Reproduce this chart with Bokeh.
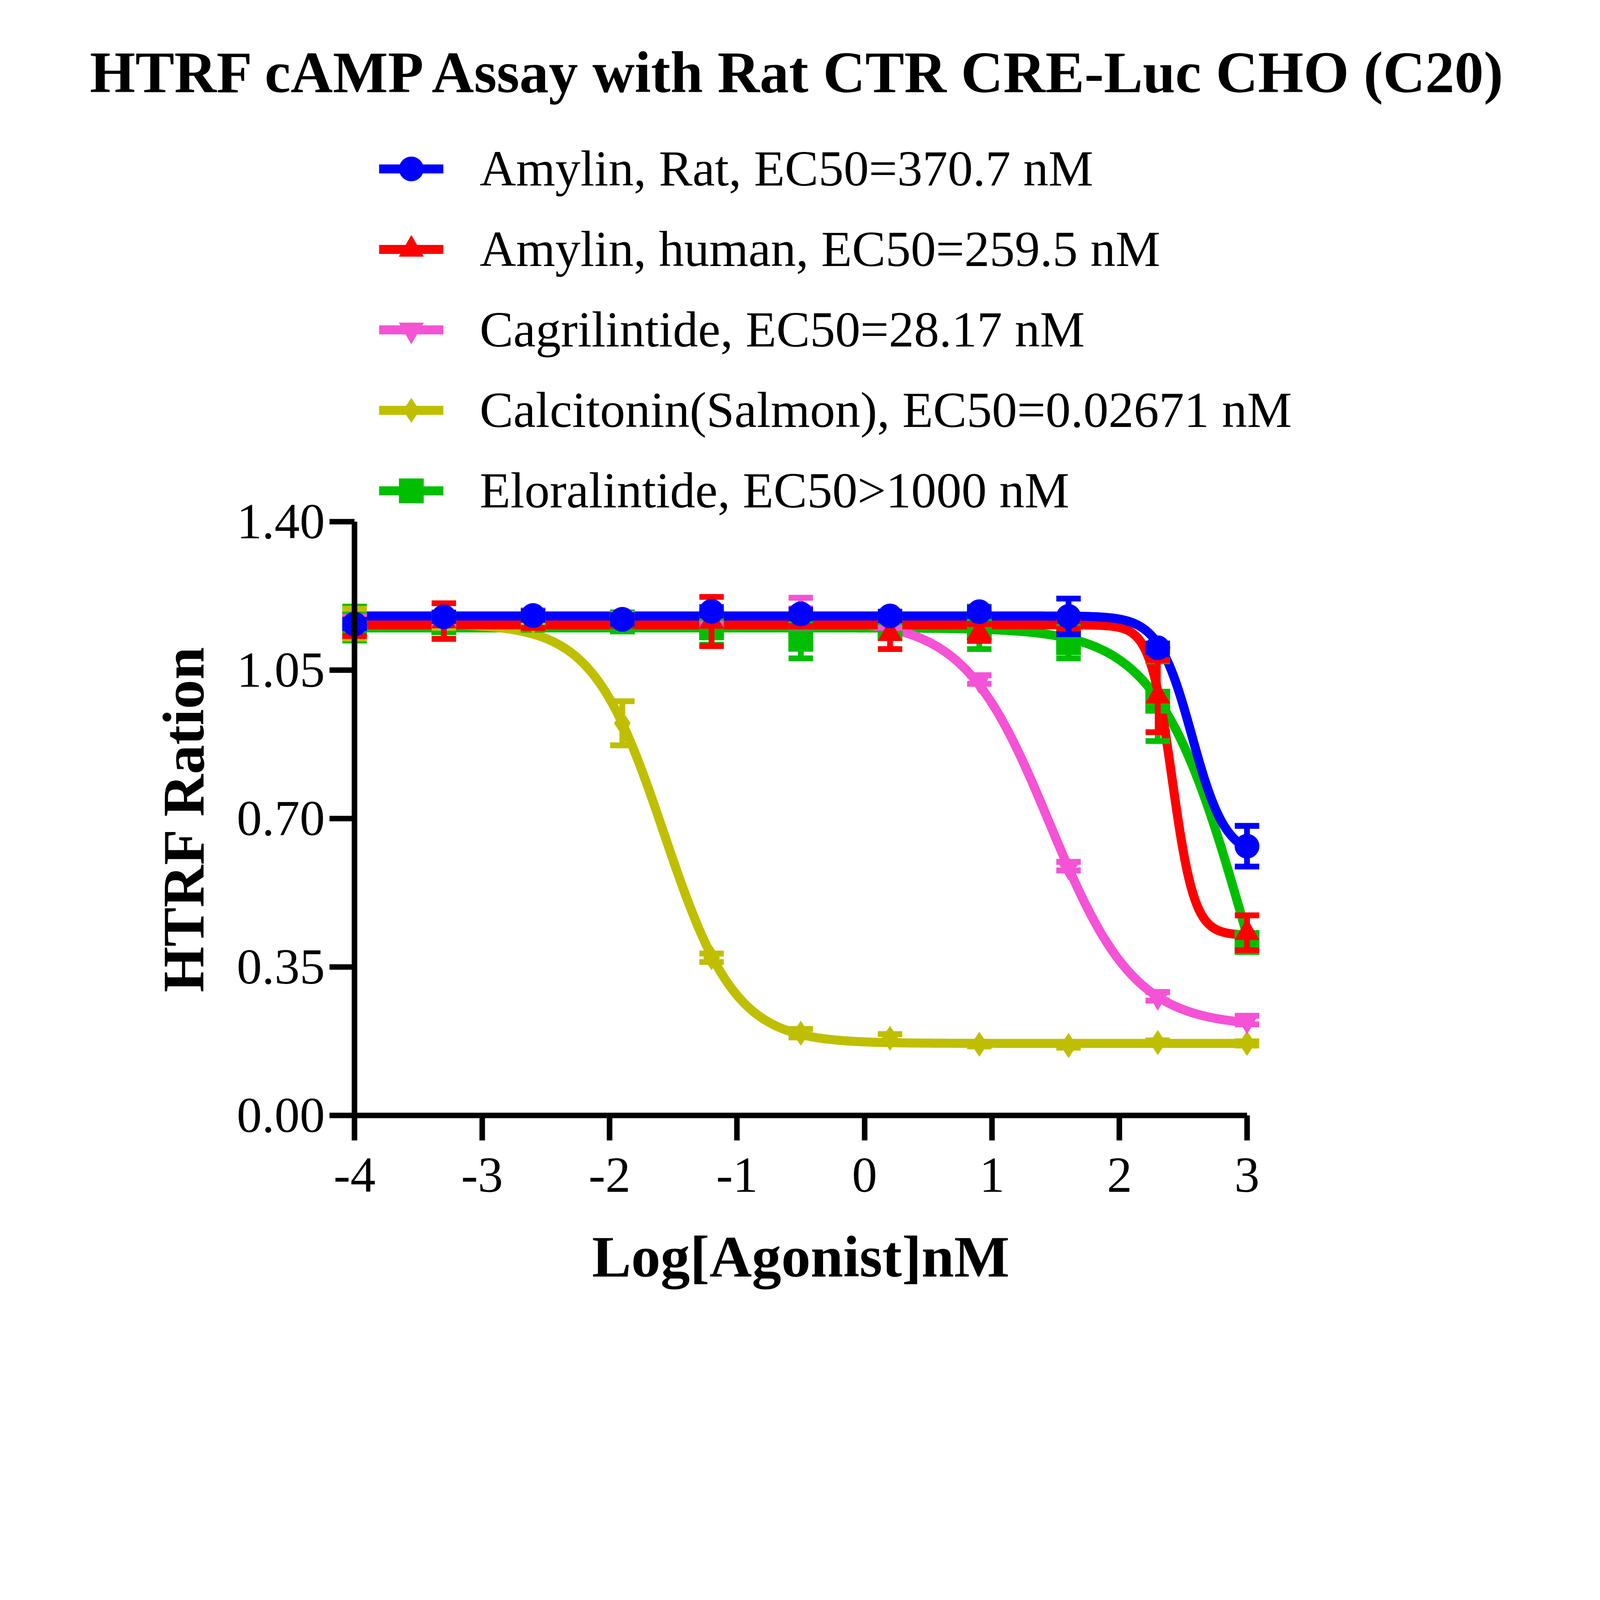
import numpy as np
from bokeh.plotting import figure
from bokeh.models import Range1d, FixedTicker, Legend, LegendItem, Label
from bokeh.embed import file_html
from bokeh.resources import INLINE

# ---------------- data ----------------
log_dose = [-4.0, -3.3, -2.6, -1.9, -1.2, -0.5, 0.2, 0.9, 1.6, 2.3, 3.0]

series_labels = [
    "Amylin, Rat, EC50=370.7 nM",
    "Amylin, human, EC50=259.5 nM",
    "Cagrilintide, EC50=28.17 nM",
    "Calcitonin(Salmon), EC50=0.02671 nM",
    "Eloralintide, EC50>1000 nM",
]

amylin_rat = [1.159, 1.176, 1.179, 1.170, 1.189, 1.183, 1.178, 1.188, 1.177, 1.103, 0.635]
amylin_rat_sem = [0.010, 0.010, 0.010, 0.010, 0.010, 0.010, 0.010, 0.010, 0.042, 0.010, 0.048]

amylin_human = [1.141, 1.166, 1.160, 1.165, 1.165, 1.163, 1.136, 1.139, 1.158, 0.989, 0.431]
amylin_human_sem = [0.010, 0.042, 0.010, 0.010, 0.058, 0.010, 0.036, 0.020, 0.010, 0.085, 0.041]

cagrilintide = [1.166, 1.170, 1.181, 1.173, 1.170, 1.186, 1.160, 1.028, 0.588, 0.281, 0.225]
cagrilintide_sem = [0.010, 0.010, 0.010, 0.010, 0.010, 0.035, 0.010, 0.010, 0.010, 0.010, 0.010]

calcitonin = [1.160, 1.160, 1.165, 0.925, 0.372, 0.194, 0.182, 0.168, 0.165, 0.172, 0.170]
calcitonin_sem = [0.035, 0.010, 0.010, 0.052, 0.010, 0.010, 0.010, 0.005, 0.005, 0.005, 0.005]

eloralintide = [1.160, 1.162, 1.168, 1.164, 1.150, 1.123, 1.150, 1.150, 1.115, 0.977, 0.408]
eloralintide_sem = [0.040, 0.010, 0.010, 0.010, 0.040, 0.045, 0.020, 0.050, 0.037, 0.094, 0.015]

# four-parameter logistic fit parameters (order as series_labels)
fit_top = [1.178, 1.157, 1.170, 1.160, 1.150]
fit_bottom = [0.610, 0.425, 0.210, 0.170, -0.300]
fit_log_ec50 = [2.569, 2.414, 1.450, -1.573, 3.000]
fit_hill = [3.3, 5.0, 1.3, 1.55, 1.26]

x_ticks = [-4, -3, -2, -1, 0, 1, 2, 3]
x_tick_labels = ["-4", "-3", "-2", "-1", "0", "1", "2", "3"]
y_ticks = [0.0, 0.35, 0.70, 1.05, 1.40]
y_tick_labels = ["0.00", "0.35", "0.70", "1.05", "1.40"]

title_text = "HTRF cAMP Assay with Rat CTR CRE-Luc CHO (C20)"
x_title = "Log[Agonist]nM"
y_title = "HTRF Ration"

# ---------------- layout / style ----------------
colors = ["#0000FF", "#FF0000", "#F552D6", "#BFBF00", "#00BF00"]
markers = ["circle", "triangle", "inverted_triangle", "diamond", "square"]
values = [amylin_rat, amylin_human, cagrilintide, calcitonin, eloralintide]
sems = [amylin_rat_sem, amylin_human_sem, cagrilintide_sem, calcitonin_sem, eloralintide_sem]

S = 0.645  # css px per reference px


def px(v):
    return v * S


FONT = "Liberation Serif"
W, H = int(6300 * S), int(5300 * S)
X0_PAGE, PX_PER_X = px(1419.0), px(506.0)
Y0_PAGE, PX_PER_Y = px(4439.0), px(1683.0)
x_start = -4 - (X0_PAGE - 8) / PX_PER_X
x_end = x_start + W / PX_PER_X
y_end = (Y0_PAGE - 8) / PX_PER_Y
y_start = y_end - H / PX_PER_Y

p = figure(width=W, height=H, output_backend="svg", toolbar_location=None,
           x_range=Range1d(x_start, x_end), y_range=Range1d(y_start, y_end),
           min_border=0, min_border_left=0, min_border_right=0,
           min_border_top=0, min_border_bottom=0)
p.title.visible = False
p.xgrid.visible = False
p.ygrid.visible = False
p.outline_line_color = None
p.background_fill_color = "white"
p.border_fill_color = "white"

xa = p.xaxis[0]
ya = p.yaxis[0]
xa.bounds = (-4, 3)
ya.bounds = (0, 1.4)
xa.fixed_location = 0
ya.fixed_location = -4
xa.ticker = FixedTicker(ticks=x_ticks)
ya.ticker = FixedTicker(ticks=y_ticks)
xa.major_label_overrides = dict(zip(x_ticks, x_tick_labels))
ya.major_label_overrides = dict(zip(y_ticks, y_tick_labels))
xa.axis_label = x_title
ya.axis_label = y_title
for ax in (xa, ya):
    ax.axis_line_width = px(22)
    ax.axis_line_color = "black"
    ax.major_tick_line_width = px(22)
    ax.major_tick_line_color = "black"
    ax.major_tick_out = int(round(px(100)))
    ax.major_tick_in = 0
    ax.minor_tick_out = 0
    ax.minor_tick_in = 0
    ax.major_label_text_font = FONT
    ax.major_label_text_font_size = f"{px(200):.1f}px"
    ax.major_label_text_color = "black"
    ax.axis_label_text_font = FONT
    ax.axis_label_text_font_style = "bold"
    ax.axis_label_text_font_size = f"{px(233):.1f}px"
    ax.axis_label_text_color = "black"
xa.major_label_standoff = int(round(px(72)))
ya.major_label_standoff = int(round(px(19)))
xa.axis_label_standoff = int(round(px(124)))
ya.axis_label_standoff = int(round(px(76)))

# ---------------- curves ----------------
xs = np.linspace(log_dose[0], log_dose[-1], 600)
curve_r = [None] * 5
for i in [4, 3, 2, 1, 0]:
    ys = fit_bottom[i] + (fit_top[i] - fit_bottom[i]) / (1.0 + 10.0 ** ((xs - fit_log_ec50[i]) * fit_hill[i]))
    curve_r[i] = p.line(xs, ys, line_color=colors[i], line_width=px(36), line_join="round")

# ---------------- points & error bars ----------------
mark_r = [None] * 5
x_arr = np.array(log_dose)
for i in [4, 3, 2, 1, 0]:
    y = np.array(values[i])
    e = np.array(sems[i])
    p.segment(x0=x_arr, y0=y - e, x1=x_arr, y1=y + e, line_color=colors[i], line_width=px(23))
    p.scatter(x=np.concatenate([x_arr, x_arr]), y=np.concatenate([y - e, y + e]),
              marker="dash", size=px(97), line_color=colors[i], line_width=px(23))
    mark_r[i] = p.scatter(x=x_arr, y=y, marker=markers[i], size=px(97),
                          fill_color=colors[i], line_color=colors[i], line_width=1)

items = [LegendItem(label=series_labels[i], renderers=[curve_r[i], mark_r[i]]) for i in range(5)]
legend = Legend(items=items, location=(int(round(px(1517) - 8)), int(round(H + 8 - px(2080)))),
                glyph_width=int(round(px(256))), glyph_height=int(round(px(242))),
                label_height=int(round(px(242))), label_standoff=int(round(px(144))),
                spacing=int(round(px(78))),
                padding=0, margin=0, border_line_color=None, background_fill_alpha=0,
                label_text_font=FONT, label_text_font_size=f"{px(200):.1f}px",
                label_text_color="black")
p.add_layout(legend, "center")

TITLE_SIZE = 232
title = Label(x=-0.5, y=(Y0_PAGE - px(377 - 0.3375 * TITLE_SIZE)) / PX_PER_Y, text=title_text,
              text_align="center", text_baseline="middle", text_font=FONT,
              text_font_style="bold", text_font_size=f"{px(TITLE_SIZE):.1f}px",
              text_color="black")
p.add_layout(title)

open("out.html", "w").write(file_html(p, INLINE))
